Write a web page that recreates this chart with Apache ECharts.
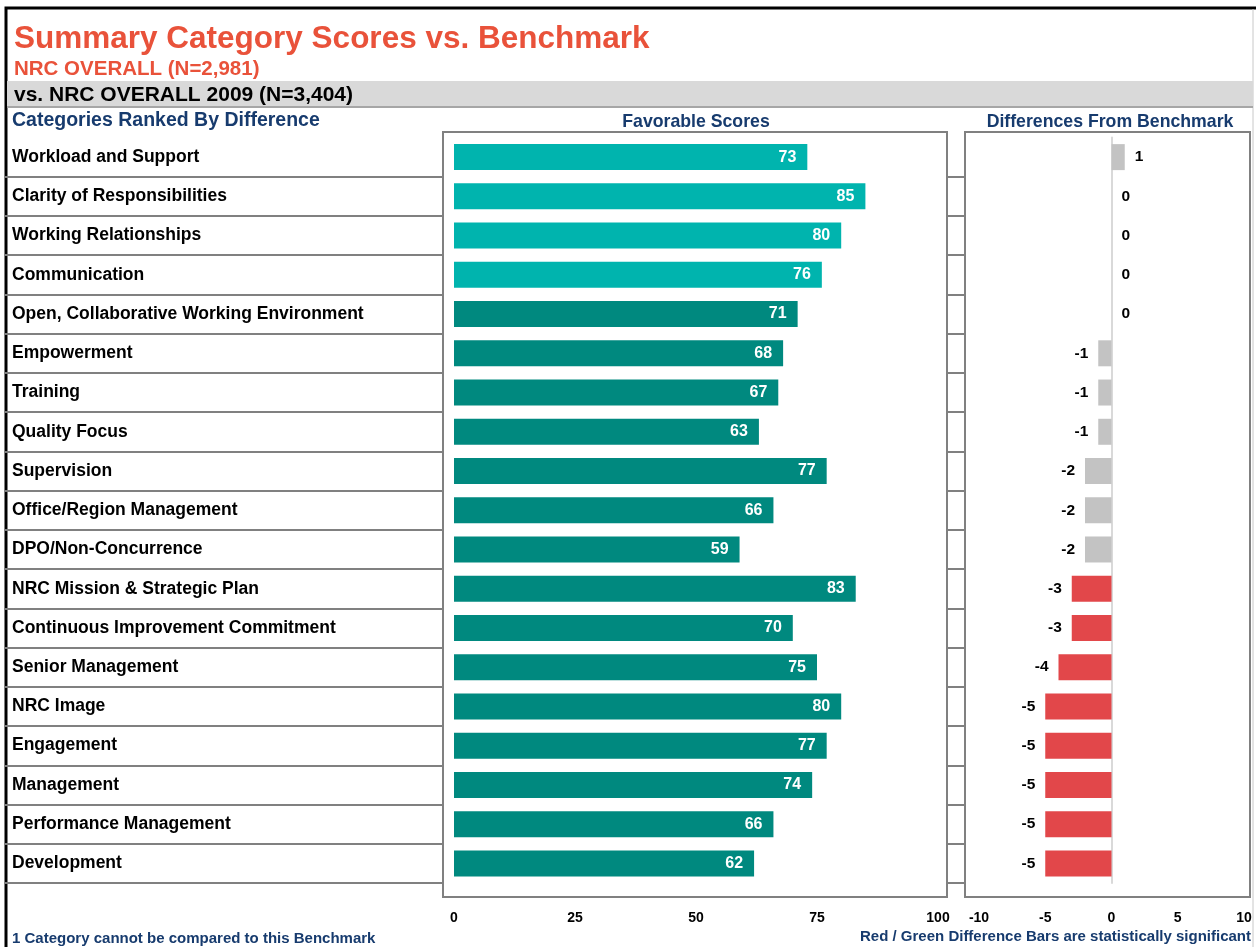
<!DOCTYPE html>
<html>
<head>
<meta charset="utf-8">
<script src="https://cdn.jsdelivr.net/npm/echarts@6/dist/echarts.min.js"></script>
<style>
  html, body { margin: 0; padding: 0; background: #fff; }
  #chart { width: 1256px; height: 947px; }
</style>
</head>
<body>
<div id="chart"></div>
<script>
// data
var categories = [
  'Workload and Support', 'Clarity of Responsibilities', 'Working Relationships',
  'Communication', 'Open, Collaborative Working Environment', 'Empowerment',
  'Training', 'Quality Focus', 'Supervision', 'Office/Region Management',
  'DPO/Non-Concurrence', 'NRC Mission & Strategic Plan',
  'Continuous Improvement Commitment', 'Senior Management', 'NRC Image',
  'Engagement', 'Management', 'Performance Management', 'Development'
];
var scores = [73, 85, 80, 76, 71, 68, 67, 63, 77, 66, 59, 83, 70, 75, 80, 77, 74, 66, 62];
var diffs = [1, 0, 0, 0, 0, -1, -1, -1, -2, -2, -2, -3, -3, -4, -5, -5, -5, -5, -5];
// 1 = light teal score bar
var scoreTone = [1, 1, 1, 1, 0, 0, 0, 0, 0, 0, 0, 0, 0, 0, 0, 0, 0, 0, 0];
// 1 = statistically significant difference (red)
var significant = [0, 0, 0, 0, 0, 0, 0, 0, 0, 0, 0, 1, 1, 1, 1, 1, 1, 1, 1];
var scoreTicks = { min: 0, max: 100, step: 25 };
var diffTicks = { min: -10, max: 10, step: 5 };

var FONT = '"Liberation Sans", Arial, sans-serif';
var ORANGE = '#E9523A';
var NAVY = '#173B6E';
var BOX = '#808080';

var rowTop = 137.5, rowH = 745.5;

function hiddenValueAxis(idx) {
  return { type: 'value', gridIndex: idx, show: false, min: 0, max: 1 };
}
function rowAxis(idx, extra) {
  var ax = {
    type: 'category', gridIndex: idx, inverse: true, data: categories,
    axisLine: { show: false }, axisTick: { show: false }, axisLabel: { show: false },
    splitLine: {
      show: true,
      interval: function (i) { return i > 0; },
      lineStyle: { color: BOX, width: 2 }
    }
  };
  return Object.assign(ax, extra || {});
}

var chart = echarts.init(document.getElementById('chart'));
chart.setOption({
  backgroundColor: '#fff',
  animation: false,
  textStyle: { fontFamily: FONT },
  grid: [
    { left: 5, top: rowTop, width: 438, height: rowH },      // category labels
    { left: 947, top: rowTop, width: 18, height: rowH },     // gap strip
    { left: 454, top: rowTop, width: 484, height: rowH },    // favorable scores
    { left: 979, top: rowTop, width: 265, height: rowH }     // differences
  ],
  xAxis: [
    hiddenValueAxis(0),
    hiddenValueAxis(1),
    {
      type: 'value', gridIndex: 2, min: scoreTicks.min, max: scoreTicks.max, interval: scoreTicks.step,
      axisLine: { show: false }, axisTick: { show: false }, splitLine: { show: false },
      axisLabel: { margin: 28, color: '#000', fontWeight: 'bold', fontSize: 14, fontFamily: FONT }
    },
    {
      type: 'value', gridIndex: 3, min: diffTicks.min, max: diffTicks.max, interval: diffTicks.step,
      axisLine: { show: false }, axisTick: { show: false }, splitLine: { show: false },
      axisLabel: { margin: 28, color: '#000', fontWeight: 'bold', fontSize: 14, fontFamily: FONT }
    }
  ],
  yAxis: [
    rowAxis(0, {
      axisLabel: {
        show: true, inside: true, margin: 7, color: '#000',
        fontWeight: 'bold', fontSize: 17.5, fontFamily: FONT
      }
    }),
    rowAxis(1),
    {
      type: 'category', gridIndex: 2, inverse: true, data: categories,
      axisLine: { show: false }, axisTick: { show: false }, axisLabel: { show: false }
    },
    {
      type: 'category', gridIndex: 3, inverse: true, data: categories,
      axisLine: { show: true, onZero: true, lineStyle: { color: '#D9D9D9', width: 2 } },
      axisTick: { show: false }, axisLabel: { show: false }
    }
  ],
  graphic: [
    // outer frame
    { type: 'polyline', shape: { points: [[6, 947], [6, 8], [1256, 8]] }, style: { stroke: '#000', lineWidth: 3, fill: null } },
    { type: 'line', shape: { x1: 1253, y1: 9, x2: 1253, y2: 947 }, style: { stroke: '#C8C8C8', lineWidth: 1 } },
    // grey band
    { type: 'rect', shape: { x: 7, y: 81, width: 1246, height: 26 }, style: { fill: '#D9D9D9' } },
    { type: 'line', shape: { x1: 7, y1: 107, x2: 1253, y2: 107 }, style: { stroke: '#A6A6A6', lineWidth: 2 } },
    // panel boxes
    { type: 'rect', shape: { x: 443, y: 132, width: 504, height: 765 }, style: { fill: null, stroke: BOX, lineWidth: 2 } },
    { type: 'rect', shape: { x: 965, y: 132, width: 285, height: 765 }, style: { fill: null, stroke: BOX, lineWidth: 2 } },
    // texts
    { type: 'text', x: 14, y: 39, style: { text: 'Summary Category Scores vs. Benchmark', font: 'bold 31.5px ' + FONT, fill: ORANGE, verticalAlign: 'middle' } },
    { type: 'text', x: 14, y: 69, style: { text: 'NRC OVERALL (N=2,981)', font: 'bold 20.5px ' + FONT, fill: ORANGE, verticalAlign: 'middle' } },
    { type: 'text', x: 14, y: 95, style: { text: 'vs. NRC OVERALL 2009 (N=3,404)', font: 'bold 21px ' + FONT, fill: '#000', verticalAlign: 'middle' } },
    { type: 'text', x: 12, y: 121, style: { text: 'Categories Ranked By Difference', font: 'bold 19.5px ' + FONT, fill: NAVY, verticalAlign: 'middle' } },
    { type: 'text', x: 696, y: 122, style: { text: 'Favorable Scores', font: 'bold 17.7px ' + FONT, fill: NAVY, align: 'center', verticalAlign: 'middle' } },
    { type: 'text', x: 1110, y: 122, style: { text: 'Differences From Benchmark', font: 'bold 17.7px ' + FONT, fill: NAVY, align: 'center', verticalAlign: 'middle' } },
    { type: 'text', x: 12, y: 939, style: { text: '1 Category cannot be compared to this Benchmark', font: 'bold 15px ' + FONT, fill: NAVY, verticalAlign: 'middle' } },
    { type: 'text', x: 1251, y: 937, style: { text: 'Red / Green Difference Bars are statistically significant', font: 'bold 15px ' + FONT, fill: NAVY, align: 'right', verticalAlign: 'middle' } }
  ],
  series: [
    {
      name: 'Favorable Scores',
      type: 'bar',
      xAxisIndex: 2, yAxisIndex: 2,
      barWidth: 26,
      data: scores.map(function (v, i) {
        return { value: v, itemStyle: { color: scoreTone[i] ? '#00B4AE' : '#00897F' } };
      }),
      label: {
        show: true, position: 'insideRight', distance: 11,
        color: '#fff', fontWeight: 'bold', fontSize: 16, fontFamily: FONT
      }
    },
    {
      name: 'Differences',
      type: 'bar',
      xAxisIndex: 3, yAxisIndex: 3,
      barWidth: 26,
      data: diffs.map(function (v, i) {
        return {
          value: v,
          itemStyle: { color: significant[i] ? '#E2474A' : '#C3C3C3' },
          label: { position: v < 0 ? 'left' : 'right' }
        };
      }),
      label: {
        show: true, distance: 10,
        color: '#000', fontWeight: 'bold', fontSize: 15.5, fontFamily: FONT
      }
    }
  ]
});
</script>
</body>
</html>
